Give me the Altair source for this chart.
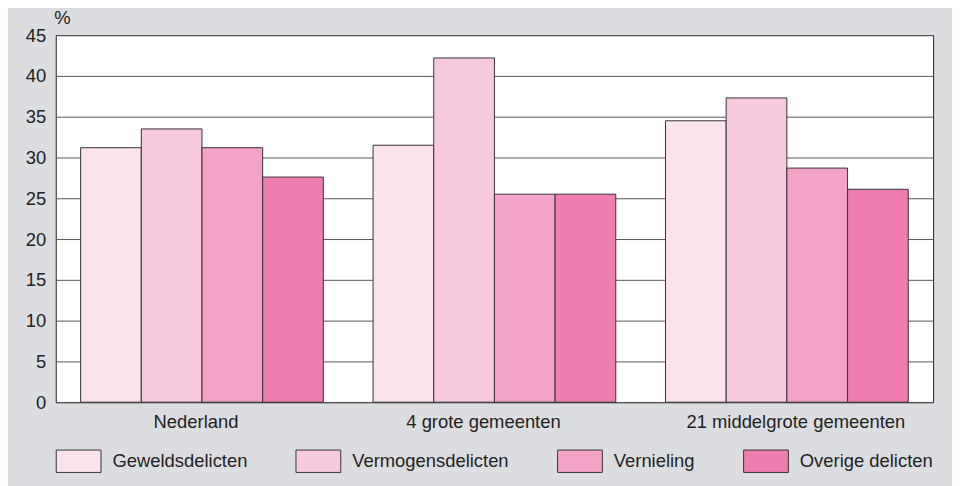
import altair as alt
import pandas as pd

regions = ["Nederland", "4 grote gemeenten", "21 middelgrote gemeenten"]
types = ["Geweldsdelicten", "Vermogensdelicten", "Vernieling", "Overige delicten"]
colors = ["#fae3ec", "#f8c9de", "#f2a3c7", "#ef7daf"]
values = {
    "Nederland": [31.2, 33.5, 31.2, 27.6],
    "4 grote gemeenten": [31.5, 42.2, 25.5, 25.5],
    "21 middelgrote gemeenten": [34.5, 37.3, 28.7, 26.1],
}

rows = []
for r in regions:
    for t, v in zip(types, values[r]):
        rows.append({"region": r, "type": t, "value": v})
df = pd.DataFrame(rows)

FONT = "Liberation Sans"
FS = 18.5

label_offset = {
    "condition": [
        {"test": "datum.value === 'Nederland'", "value": -6},
        {"test": "datum.value === '4 grote gemeenten'", "value": -11},
    ],
    "value": 9,
}

chart = alt.Chart(df).mark_bar(stroke="#333333", strokeWidth=1).encode(
    x=alt.X("region:N", sort=regions,
            scale=alt.Scale(paddingInner=0, paddingOuter=0),
            axis=alt.Axis(title=None, labelAngle=0, ticks=False, domain=False,
                          labelPadding=10, labelFontSize=FS, labelFont=FONT,
                          labelColor="#222222", labelLimit=400,
                          labelOffset=label_offset)),
    xOffset=alt.XOffset("type:N", sort=types,
                        scale=alt.Scale(paddingInner=0, paddingOuter=0.41)),
    y=alt.Y("value:Q", scale=alt.Scale(domain=[0, 45]),
            axis=alt.Axis(values=list(range(0, 46, 5)), ticks=False, domain=False,
                          gridColor="#555555", gridWidth=1,
                          labelPadding=10, labelFontSize=FS, labelFont=FONT,
                          labelColor="#222222",
                          title="%", titleAngle=0, titleX=-2, titleY=-8,
                          titleAlign="left", titleBaseline="bottom",
                          titleFontSize=FS, titleFontWeight="normal",
                          titleFont=FONT, titleColor="#222222")),
    color=alt.Color("type:N", sort=types,
                    scale=alt.Scale(domain=types, range=colors),
                    legend=alt.Legend(title=None, orient="none", legendX=0, legendY=405,
                                      direction="horizontal",
                                      symbolType="M-1,-0.5H1V0.5H-1Z",
                                      symbolSize=2025, symbolStrokeColor="#333333",
                                      symbolStrokeWidth=1, symbolOpacity=1,
                                      labelFontSize=FS, labelFont=FONT,
                                      labelColor="#222222", labelOffset=11,
                                      columnPadding=46, labelLimit=300)),
).properties(
    width=882, height=369,
    autosize=alt.AutoSizeParams(type="none"),
    padding={"left": 48, "top": 26, "right": 19, "bottom": 83},
    background="#dcdde0",
).configure_view(
    fill="white", stroke="#222222", strokeWidth=1
)

chart.save("out.html", embed_options={"renderer": "svg", "actions": False})
